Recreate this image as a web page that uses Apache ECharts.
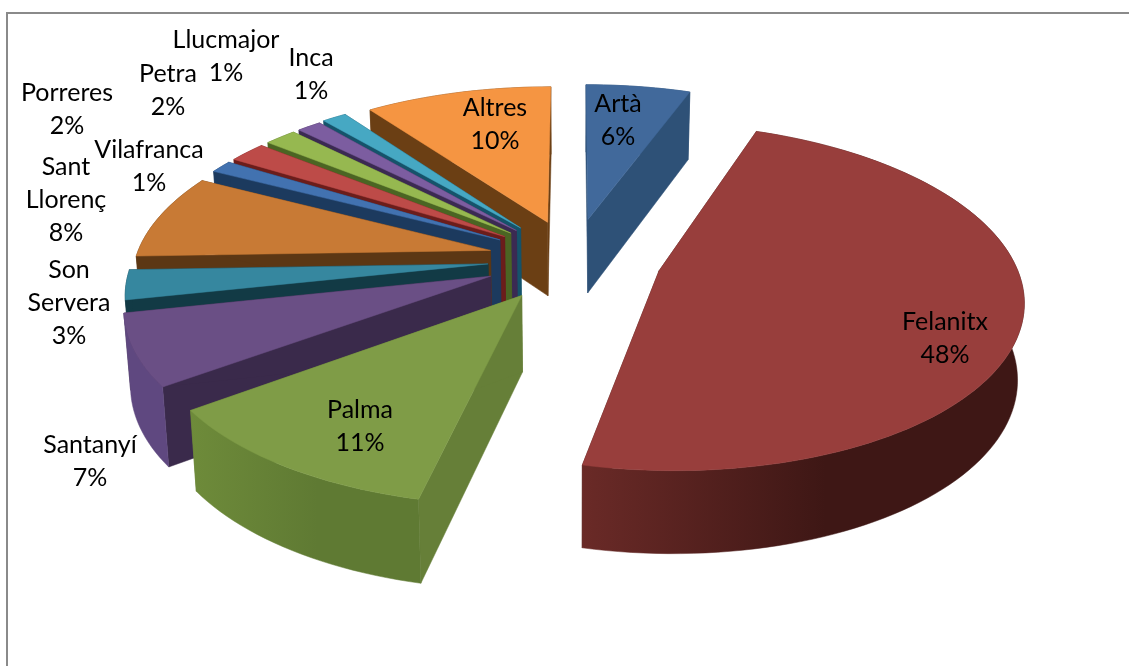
<!DOCTYPE html>
<html><head><meta charset="utf-8">
<style>html,body{margin:0;padding:0;background:#fff;overflow:hidden}#c{width:1129px;height:666px}</style>
<script src="https://cdn.jsdelivr.net/npm/echarts@6/dist/echarts.min.js"></script>
</head><body><div id="c"></div>
<script>
// Data
const categories = ['Artà','Felanitx','Palma','Santanyí','Son Servera','Sant Llorenç','Vilafranca','Porreres','Petra','Llucmajor','Inca','Altres'];
const shares = [5.6,48.0,11.5,6.7,2.8,8.1,1.2,2.0,1.7,1.3,1.3,10.0];
const labelLines = [['Artà'],['Felanitx'],['Palma'],['Santanyí'],['Son','Servera'],['Sant','Llorenç'],['Vilafranca'],['Porreres'],['Petra'],['Llucmajor'],['Inca'],['Altres']];
// Styling
const explode = [.25,.25,.255,.25,.24,.24,.24,.24,.24,.24,.245,.24];
const topColors = ['#41699b','#983e3c','#7f9c47','#6a4f85','#36879f','#c87a35','#4272b0','#bd4b48','#96b850','#7c5da0','#46a8c3','#f59542'];
const wallColors = ['#2e5177','#4a1c19','#667f38','#3a2a4b','#123a45','#5c3714','#1c3a5e','#6b1d1b','#4b6523','#3b2a52','#15536a','#6b3f14'];
const rimLeft = ['#2e5177','#6a2a27','#6e8b3a','#5f4880','#123a45','#5c3714','#1c3a5e','#6b1d1b','#4b6523','#3b2a52','#15536a','#6b3f14'];
const rimRight = ['#2e5177','#3e1715','#5f7a33','#5f4880','#123a45','#5c3714','#1c3a5e','#6b1d1b','#4b6523','#3b2a52','#15536a','#6b3f14'];
const labelCentres = [[618,120],[945,338],[360,426],[90,461],[69,303],[66,200],[149,166],[67,109],[168,90],[226,56],[311,74],[495,124]];
// Projection of the disc plane
const P = {cx:573, cy:259, F:355, G:166, persp:.15, depth:75, depthPersp:.09, shrink:.985};
const total = shares.reduce((a,b)=>a+b,0);
const spans = []; { let s=0; shares.forEach(v=>{const a=v/total*Math.PI*2; spans.push([s,s+a]); s+=a;}); }
const project = (X,Y)=>{const w=1+P.persp*Y; return [P.cx+P.F*X/w, P.cy-P.G*Y/w];};
const lower = (X,Y)=>{const p=project(X,Y); return [P.cx+(p[0]-P.cx)*P.shrink, p[1]+P.depth/(1+P.depthPersp*Y)];};
const pct = v=>Math.round(v/total*100)+'%';
function poly(points,fill){return {type:'polygon',shape:{points},style:{fill,stroke:fill,lineWidth:.5}};}
function renderItem(i){
  const [a0,a1]=spans[i], mid=(a0+a1)/2, E=explode[i];
  const ox=E*Math.sin(mid), oy=E*Math.cos(mid);
  const N=Math.max(6,Math.ceil((a1-a0)/0.03));
  const arc=[]; for(let k=0;k<=N;k++){const a=a0+(a1-a0)*k/N; arc.push([ox+Math.sin(a),oy+Math.cos(a)]);}
  const topArc=arc.map(q=>project(q[0],q[1])), lowArc=arc.map(q=>lower(q[0],q[1]));
  const ap=project(ox,oy), al=lower(ox,oy);
  const rimFill={type:'linear',x:0,y:0,x2:1,y2:0,colorStops:[{offset:0,color:rimLeft[i]},{offset:.55,color:rimRight[i]},{offset:1,color:rimRight[i]}]};
  const lines=labelLines[i].concat(pct(shares[i]));
  const [lx,ly]=labelCentres[i];
  return {type:'group',children:[
    poly([ap,topArc[0],lowArc[0],al],wallColors[i]),
    poly([ap,topArc[N],lowArc[N],al],wallColors[i]),
    poly(topArc.concat(lowArc.slice().reverse()),rimFill),
    poly([ap].concat(topArc),topColors[i]),
    {type:'text',z2:10,style:{text:lines.join('\n'),x:lx,y:ly,align:'center',verticalAlign:'middle',font:'25px Lato',lineHeight:33,fill:'#000'}}
  ]};
}
const drawOrder = shares.map((_,i)=>i).sort((a,b)=>Math.cos((spans[b][0]+spans[b][1])/2)-Math.cos((spans[a][0]+spans[a][1])/2));
const chart=echarts.init(document.getElementById('c'),null,{renderer:'canvas'});
chart.setOption({
  animation:false,
  backgroundColor:'#fff',
  graphic:[{type:'rect',shape:{x:7,y:13,width:1140,height:700},style:{fill:'none',stroke:'#8a8a8a',lineWidth:2},z:-1}],
  series:drawOrder.map(i=>({type:'custom',coordinateSystem:'none',name:categories[i],silent:true,
    renderItem:()=>renderItem(i),data:[shares[i]]}))
});
</script></body></html>
